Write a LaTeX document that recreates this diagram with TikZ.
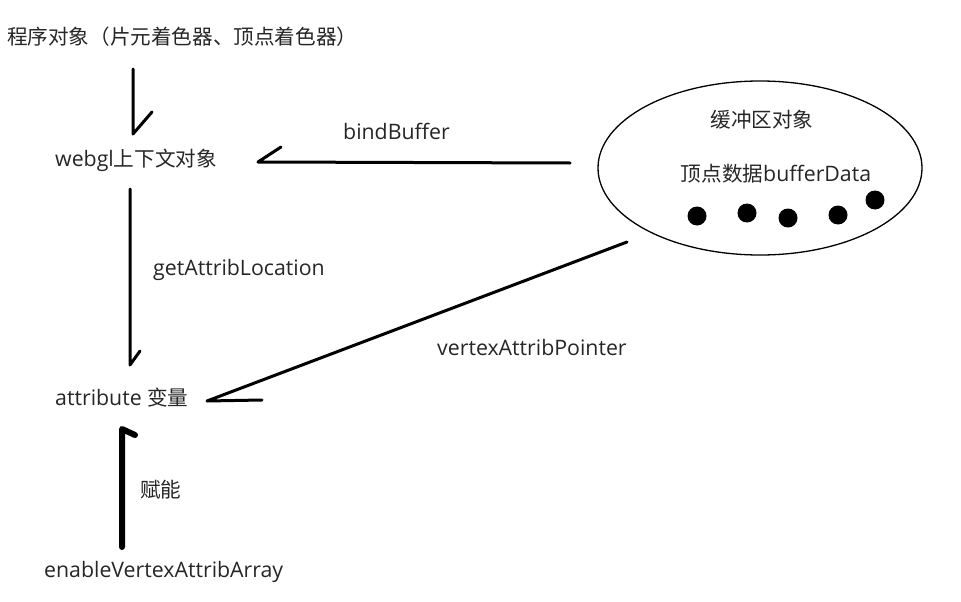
\documentclass[tikz,border=0pt]{standalone}
\usepackage{fontspec}
\setmainfont{Open Sans}
\newfontfamily\cjk{Noto Sans CJK SC}
\usetikzlibrary{shapes.geometric}
\newcommand\cj[1]{{\fontsize{20.6}{22}\selectfont\cjk #1}}
\begin{document}
\begin{tikzpicture}[x=1pt,y=-1pt,
  lbl/.style={font=\fontsize{21.3}{23}\selectfont, text=black!85, inner sep=0pt, anchor=west},
  ctr/.style={font=\fontsize{21.3}{23}\selectfont, text=black!85, inner sep=0pt},
  arr/.style={line width=3pt, line cap=round, line join=round},
  thickarr/.style={line width=6pt, line cap=round, line join=round},
  dot/.style={fill=black, circle, minimum size=19pt, inner sep=0pt}]
\useasboundingbox (0,0) rectangle (961,602);
\fill[white] (0,0) rectangle (961,602);
% texts
\node[lbl] (prog) at (7,37) {\cj{程序对象（片元着色器、顶点着色器）}};
\node[lbl] (webgl) at (55,160) {webgl\cj{上下文对象}};
\node[lbl] (bind) at (343,131) {bindBuffer};
\node[lbl] (getloc) at (153,270) {getAttribLocation};
\node[lbl] (attr) at (55,398) {attribute \cj{变量}};
\node[lbl] (vap) at (437,348) {vertexAttribPointer};
\node[lbl] (fn) at (140,490) {\cj{赋能}};
\node[lbl] (enable) at (44,572) {enableVertexAttribArray};
% buffer ellipse
\node[draw, line width=1.3pt, ellipse, minimum width=324pt, minimum height=174pt] (buf) at (760,168) {};
\node[ctr] (buft) at (762,120) {\cj{缓冲区对象}};
\node[ctr] (bufd) at (776,174) {\cj{顶点数据}bufferData};
\node[dot] (d1) at (697,216) {};
\node[dot] (d2) at (747,213) {};
\node[dot] (d3) at (788,218) {};
\node[dot] (d4) at (838,215) {};
\node[dot] (d5) at (875,200) {};
% arrow coordinates
\coordinate (a1s) at (133,69);
\coordinate (a1t) at (133,134);
\coordinate (a1h) at (152,112);
\coordinate (a2s) at (570,163);
\coordinate (a2t) at (258,162);
\coordinate (a2h) at (281,147);
\coordinate (a3s) at (130,189);
\coordinate (a3t) at (130,365);
\coordinate (a3h) at (140,351);
\coordinate (a4s) at (627,242);
\coordinate (a4t) at (207,401);
\coordinate (a4h) at (262,400);
\coordinate (a5s) at (122,547);
\coordinate (a5t) at (122,429);
\coordinate (a5h) at (135,435);
\draw[arr] (a1s) -- (a1t) -- (a1h);
\draw[arr] (a2s) -- (a2t) -- (a2h);
\draw[arr] (a3s) -- (a3t) -- (a3h);
\draw[arr] (a4s) -- (a4t) -- (a4h);
\draw[thickarr] (a5s) -- (a5t) -- (a5h);
\end{tikzpicture}
\end{document}
